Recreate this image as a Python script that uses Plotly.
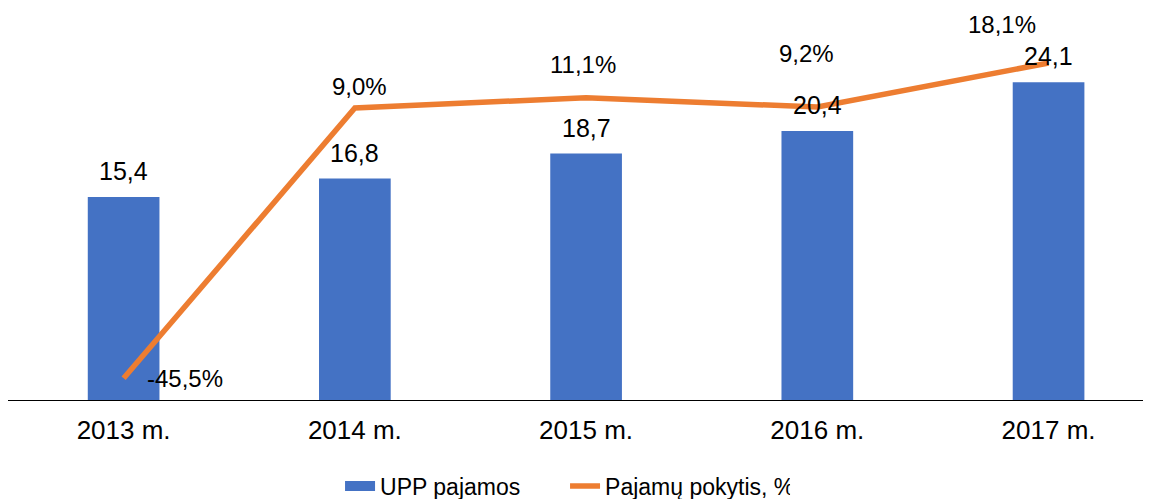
import plotly.graph_objects as go

# ---- data ----
years = ["2013 m.", "2014 m.", "2015 m.", "2016 m.", "2017 m."]
upp_income = [15.4, 16.8, 18.7, 20.4, 24.1]
income_change = [-45.5, 9.0, 11.1, 9.2, 18.1]

BLUE = "#4472C4"
ORANGE = "#ED7D31"
FONT = "Liberation Sans, Arial, sans-serif"

# pixel offsets of the percentage labels relative to their points
pct_label_shift = [(61, 0), (5, 22), (-3, 33), (-11, 54), (-47, 38)]


def fmt(v, suffix=""):
    return f"{v:.1f}".replace(".", ",") + suffix


fig = go.Figure()
fig.add_trace(go.Bar(
    x=years, y=upp_income, name="UPP pajamos",
    marker=dict(color=BLUE, line=dict(width=0)), showlegend=False,
))
# legend swatch for the bars (wide rectangle, like the original)
fig.add_trace(go.Scatter(
    x=[None], y=[None], mode="lines", name="UPP pajamos",
    line=dict(color=BLUE, width=13),
))
fig.add_trace(go.Scatter(
    x=years, y=income_change, mode="lines", name="Pajamų pokytis, %",
    line=dict(color=ORANGE, width=5.5), yaxis="y2",
))

for yr, v in zip(years, upp_income):
    fig.add_annotation(x=yr, y=v, yref="y", text=fmt(v), showarrow=False,
                       yshift=26, font=dict(size=25, color="black"))

for (yr, v), (dx, dy) in zip(zip(years, income_change), pct_label_shift):
    fig.add_annotation(x=yr, y=v, yref="y2", text=fmt(v, "%"), showarrow=False,
                       xshift=dx, yshift=dy, font=dict(size=24, color="black"))

# the page adds an 8px body margin, so the figure is 8px smaller each way
fig.update_layout(
    width=1143, height=491,
    margin=dict(l=0, r=0, t=0, b=99),
    paper_bgcolor="white", plot_bgcolor="white",
    font=dict(family=FONT, color="black"),
    bargap=0.69,
    xaxis=dict(type="category", range=[-0.5, 4.443], showline=True,
               linecolor="black", linewidth=1, ticks="", showgrid=False,
               tickfont=dict(size=26), ticklabelstandoff=7),
    yaxis=dict(range=[0, 29.74], visible=False, showgrid=False),
    yaxis2=dict(range=[-49.88, 29.18], overlaying="y", visible=False,
                showgrid=False),
    legend=dict(orientation="h", xref="container", yref="container",
                x=0.2905, y=0.0265, xanchor="left", yanchor="middle",
                font=dict(size=23), entrywidth=180),
)

fig.write_html("out.html")
